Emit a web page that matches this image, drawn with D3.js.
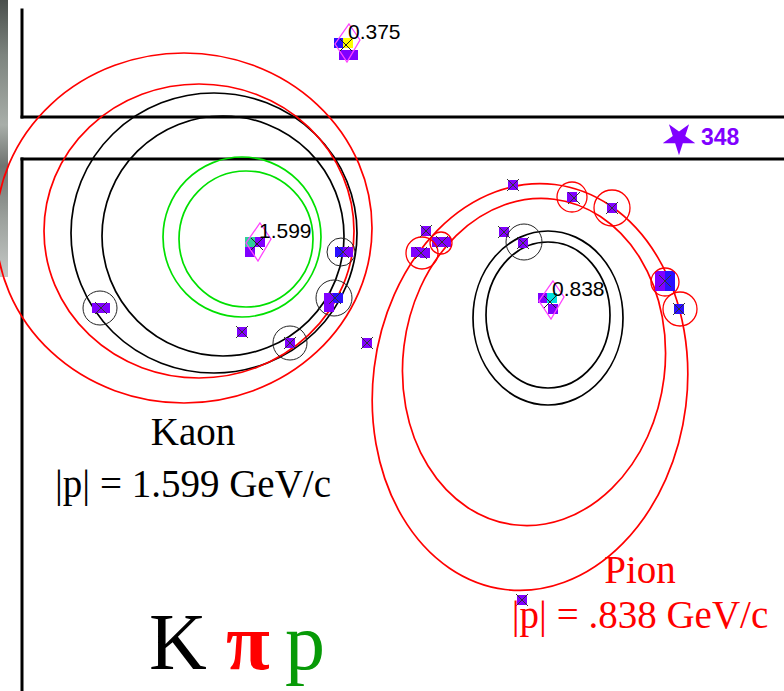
<!DOCTYPE html>
<html>
<head>
<meta charset="utf-8">
<script src="https://cdn.jsdelivr.net/npm/d3@7"></script>
<style>
  html, body { margin: 0; padding: 0; background: #fff; }
  svg { display: block; }
</style>
</head>
<body>
<div id="chart"></div>
<script>
// RICH event display: Cherenkov ring hypotheses for two tracks, with pad hits.
// All positions are in pad-plane display units.

// Ring hypotheses per track: [hypothesis, cx, cy, rx, ry, tiltDeg]
const kaonTrackRings = [
  ["p",  246, 239,  67,  68, 0],
  ["p",  242, 237,  79,  80, 0],
  ["K",  223, 236, 121, 120, 0],
  ["K",  214, 233, 143, 140, 0],
  ["pi", 199, 231, 155, 147, 0],
  ["pi", 184, 228, 188, 175, 0]
];
const pionTrackRings = [
  ["K",  548, 315,  62,  73, 0],
  ["K",  548, 318,  75,  87, 0],
  ["pi", 534, 362, 131, 164, 7],
  ["pi", 530, 387, 157, 204, 7]
];

// Pad hits: [x, y, colour]
const padHits = [
  [97, 308, "v"], [105, 308, "v"],
  [340, 252, "b"], [348, 252, "v"],
  [329, 298, "v"], [338, 298, "b"], [329, 307, "v"],
  [290, 343, "v"],
  [242, 332, "v"],
  [367, 343, "v"],
  [513, 185, "v"],
  [572, 197, "v"],
  [612, 208, "v"],
  [426, 231, "v"],
  [416, 252, "v"], [425, 253, "v"],
  [437, 242, "v"], [446, 242, "v"],
  [504, 232, "v"],
  [523, 243, "v"],
  [660, 276, "v"], [670, 276, "b"], [660, 286, "v"], [670, 286, "b"],
  [679, 309, "b"],
  [522, 600, "v"]
];
// Hit clusters marked with a cross: [x, y]
const hitCrosses = [
  [101, 308], [343, 252], [335, 298], [290, 343], [242, 332], [367, 343],
  [513, 185], [574, 198], [612, 208], [426, 231], [421, 253], [442, 242],
  [504, 232], [523, 243], [665, 281], [679, 309], [522, 600]
];
// Photons associated with a ring: [x, y, radius, hypothesis]
const matchedPhotons = [
  [100, 308, 17, "K"], [341, 252, 14, "K"], [334, 298, 18, "K"], [290, 343, 17, "K"],
  [524, 242, 18, "K"],
  [572, 197, 15, "pi"], [612, 208, 18, "pi"], [422, 253, 16, "pi"], [441, 243, 11, "pi"],
  [665, 282, 14, "pi"], [680, 309, 17, "pi"]
];

// Track impact points: [x, y, momentum label]
const trackImpacts = [
  [347, 43, "0.375"],
  [258, 242, "1.599"],
  [551, 300, "0.838"]
];
// Squares around each impact point: [trackIndex, dx, dy, colour]
const impactPads = [
  [0, -8, 0, "b"], [0, 1, 0, "y"], [0, -3, 12, "v"], [0, 6, 12, "v"],
  [1, -8, 0, "g"], [1, 2, 0, "v"], [1, -8, 10, "v"],
  [2, -8, -2, "v"], [2, 1, -2, "c"], [2, 2, 9, "v"]
];

// Detector volumes outlined on the pad plane
const frameLines = [
  [22, 10, 22, 117], [22, 117, 784, 117],
  [22, 159, 22, 691], [22, 159, 784, 159]
];

// Particle labels
const hitCount = "348";
const kaonLabel = ["Kaon", "|p| = 1.599 GeV/c"];
const pionLabel = ["Pion", "|p| = .838 GeV/c"];
const legendSpecies = ["K", "π", "p"];

const W = 784, H = 691;
const x = d3.scaleLinear().domain([0, 784]).range([0, W]);
const y = d3.scaleLinear().domain([0, 691]).range([0, H]);
const rx = r => x(r) - x(0);
const ry = r => y(r) - y(0);

const ringColour = { K: "#000000", pi: "#ff0000", p: "#00e000" };
const padColour = { v: "#8000ff", b: "#2a10ff", y: "#ffff00", g: "#2fd09a", c: "#00e0e0" };

const svg = d3.select("#chart").append("svg")
  .attr("width", W).attr("height", H);

// photograph strip at the left edge
const grad = svg.append("defs").append("linearGradient")
  .attr("id", "strip").attr("x1", 0).attr("y1", 0).attr("x2", 0).attr("y2", 1);
[["0", "#4a4f4c"], ["0.2", "#7d847f"], ["0.45", "#a8aea9"], ["0.6", "#6f7470"],
 ["0.8", "#9ea39f"], ["1", "#c4c8c5"]].forEach(([o, c]) =>
  grad.append("stop").attr("offset", o).attr("stop-color", c));
svg.append("rect").attr("x", 0).attr("y", 0).attr("width", 8).attr("height", 277)
  .attr("fill", "url(#strip)");

// frame
svg.append("g").selectAll("line").data(frameLines).join("line")
  .attr("x1", d => x(d[0])).attr("y1", d => y(d[1]))
  .attr("x2", d => x(d[2])).attr("y2", d => y(d[3]))
  .attr("stroke", "#000").attr("stroke-width", 3).attr("stroke-linecap", "square");

// Cherenkov rings
const rings = svg.append("g").attr("fill", "none").attr("stroke-width", 1.7);
rings.selectAll("ellipse").data(kaonTrackRings.concat(pionTrackRings)).join("ellipse")
  .attr("cx", d => x(d[1])).attr("cy", d => y(d[2]))
  .attr("rx", d => rx(d[3])).attr("ry", d => ry(d[4]))
  .attr("transform", d => `rotate(${d[5]},${x(d[1])},${y(d[2])})`)
  .attr("stroke", d => ringColour[d[0]]);

// pad hits
svg.append("g").selectAll("rect").data(padHits).join("rect")
  .attr("x", d => x(d[0]) - 5).attr("y", d => y(d[1]) - 5)
  .attr("width", 10).attr("height", 10)
  .attr("fill", d => padColour[d[2]]);

// associated photon circles
svg.append("g").attr("fill", "none").selectAll("circle").data(matchedPhotons).join("circle")
  .attr("cx", d => x(d[0])).attr("cy", d => y(d[1])).attr("r", d => rx(d[2]))
  .attr("stroke", d => d[3] === "K" ? "#222" : "#ff0000")
  .attr("stroke-width", d => d[3] === "K" ? 1 : 1.3);

// crosses
const crossG = svg.append("g").attr("stroke", "#333").attr("stroke-width", 1);
crossG.selectAll("path").data(hitCrosses).join("path")
  .attr("d", d => {
    const cx = x(d[0]), cy = y(d[1]), s = 6;
    return `M${cx - s},${cy - s}L${cx + s},${cy + s}M${cx - s},${cy + s}L${cx + s},${cy - s}`;
  });

// track impact points
const imp = svg.append("g");
imp.selectAll("rect").data(impactPads).join("rect")
  .attr("x", d => x(trackImpacts[d[0]][0] + d[1]) - 5)
  .attr("y", d => y(trackImpacts[d[0]][1] + d[2]) - 5)
  .attr("width", 10).attr("height", 10)
  .attr("fill", d => padColour[d[3]]);
imp.selectAll("polygon").data(trackImpacts).join("polygon")
  .attr("points", d => {
    const cx = x(d[0]), cy = y(d[1]);
    return [[cx + 2, cy - 19], [cx + 13, cy - 3], [cx + 0, cy + 19], [cx - 12, cy + 1]]
      .map(p => p.join(",")).join(" ");
  })
  .attr("fill", "none").attr("stroke", "#ff44ff").attr("stroke-width", 1.3);
imp.selectAll("path").data(trackImpacts).join("path")
  .attr("d", d => {
    const cx = x(d[0]) - 1, cy = y(d[1]) + 2, s = 6;
    return `M${cx - s},${cy - s}L${cx + s},${cy + s}M${cx - s},${cy + s}L${cx + s},${cy - s}`;
  })
  .attr("stroke", "#222").attr("stroke-width", 1);
imp.selectAll("text").data(trackImpacts).join("text")
  .attr("x", d => x(d[0]) + 1).attr("y", d => y(d[1]) - 4)
  .attr("font-family", "Liberation Sans, Arial, sans-serif")
  .attr("font-size", 21).attr("fill", "#000")
  .text(d => d[2]);

// hit-count star
svg.append("path")
  .attr("d", d3.symbol(d3.symbolStar, 330)())
  .attr("transform", `translate(${x(679)},${y(138)}) rotate(180)`)
  .attr("fill", "#8000ff");
svg.append("text")
  .attr("x", x(701)).attr("y", y(145))
  .attr("font-family", "Liberation Sans, Arial, sans-serif")
  .attr("font-weight", "bold").attr("font-size", 23).attr("fill", "#8000ff")
  .text(hitCount);

// particle labels
const serif = "Liberation Serif, Times New Roman, serif";
svg.append("g").selectAll("text").data(kaonLabel).join("text")
  .attr("x", x(193)).attr("y", (d, i) => y(445 + i * 52))
  .attr("text-anchor", "middle").attr("font-family", serif)
  .attr("font-size", 39).attr("fill", "#000").text(d => d);
svg.append("g").selectAll("text").data(pionLabel).join("text")
  .attr("x", x(640)).attr("y", (d, i) => y(583 + i * 45))
  .attr("text-anchor", "middle").attr("font-family", serif)
  .attr("font-size", 39).attr("fill", "#ff0000").text(d => d);

// species legend
const legendColour = ["#000000", "#ff0000", "#079a07"];
const legendX = [149, 226, 285];
svg.append("g").selectAll("text").data(legendSpecies).join("text")
  .attr("x", (d, i) => x(legendX[i])).attr("y", y(669))
  .attr("font-family", serif).attr("font-size", 80)
  .attr("font-weight", (d, i) => i === 1 ? "bold" : "normal")
  .attr("fill", (d, i) => legendColour[i]).text(d => d);
</script>
</body>
</html>
